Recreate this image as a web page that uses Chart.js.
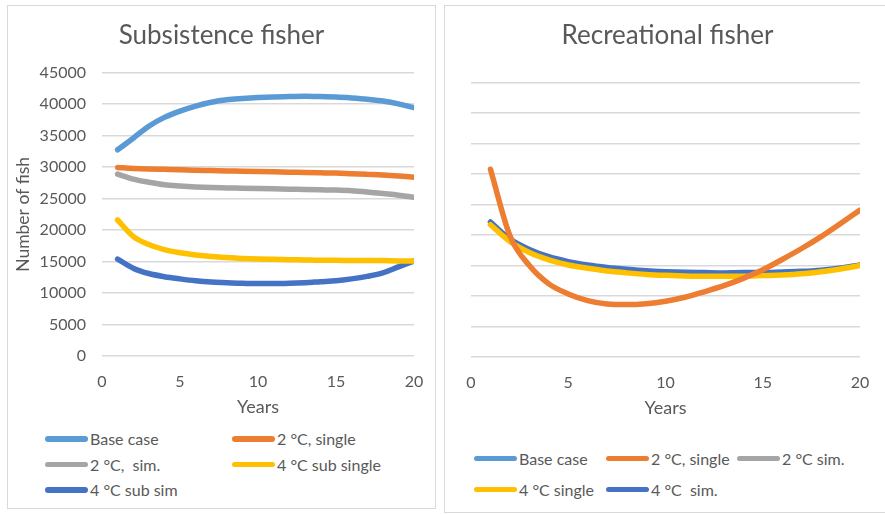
<!DOCTYPE html>
<html>
<head>
<meta charset="utf-8">
<script src="https://cdn.jsdelivr.net/npm/chart.js@4/dist/chart.umd.min.js"></script>
<style>
  body { margin: 0; background: #fff; font-family: Lato, sans-serif; }
  .panel { position: absolute; border: 1px solid #d9d9d9; background: #fff; overflow: hidden; }
  #p1 { left: 7px; top: 5px; width: 427px; height: 502px; }
  #p2 { left: 444px; top: 5px; width: 445px; height: 506px; }
  .legend { position: absolute; display: grid; font-size: 16px; color: #595959; }
  #leg1 { left: 37px; top: 420px; grid-template-columns: 187px 187px; grid-auto-rows: 25.5px; }
  #leg2 { left: 29px; top: 437px; grid-template-columns: 132px 131px 131px; grid-auto-rows: 31px; }
  .item { display: flex; align-items: center; white-space: pre; }
  .sw { display: inline-block; width: 43px; height: 5.5px; border-radius: 3px; margin-right: 2px; }
</style>
</head>
<body>
<div class="panel" id="p1">
  <canvas id="eChart1"></canvas>
  <div class="legend" id="leg1"></div>
</div>
<div class="panel" id="p2">
  <canvas id="eChart2"></canvas>
  <div class="legend" id="leg2"></div>
</div>
<script>
// data
var years = [1, 2, 3, 4, 5, 6, 7, 8, 9, 10, 11, 12, 13, 14, 15, 16, 17, 18, 19, 20];
var xTicks = [0, 5, 10, 15, 20];
var yTicks = [0, 5000, 10000, 15000, 20000, 25000, 30000, 35000, 40000, 45000];

// Subsistence fisher
var subNames = ['Base case', '2 °C, single', '2 °C,  sim.', '4 °C sub single', '4 °C sub sim'];
var subBase = [32750, 34600, 36500, 37900, 38900, 39700, 40300, 40700, 40900, 41050, 41150, 41200, 41250, 41200, 41150, 41000, 40800, 40500, 40050, 39450];
var sub2Single = [29950, 29800, 29700, 29650, 29600, 29500, 29450, 29400, 29350, 29300, 29250, 29200, 29150, 29100, 29050, 28950, 28850, 28750, 28600, 28400];
var sub2Sim = [28900, 28100, 27600, 27200, 27000, 26850, 26750, 26700, 26650, 26600, 26550, 26500, 26450, 26400, 26350, 26250, 26050, 25800, 25550, 25200];
var sub4Single = [21600, 19000, 17700, 16900, 16400, 16050, 15800, 15650, 15500, 15400, 15350, 15300, 15250, 15200, 15200, 15150, 15150, 15150, 15100, 15100];
var sub4Sim = [15400, 13950, 13100, 12600, 12250, 11950, 11750, 11650, 11550, 11500, 11500, 11550, 11650, 11800, 11950, 12250, 12650, 13200, 14150, 15100];

// Recreational fisher (base case and 2 °C sim. not visible in the picture)
var recNames = ['Base case', '2 °C, single', '2 °C sim.', '4 °C single', '4 °C  sim.'];
var recBase = [];
var rec2Single = [30800, 19900, 15000, 12000, 10350, 9250, 8700, 8600, 8750, 9150, 9800, 10700, 11700, 12900, 14300, 16000, 17800, 19750, 21900, 24100];
var rec2Sim = [];
var rec4Single = [21700, 18950, 17150, 15950, 15100, 14550, 14100, 13800, 13550, 13400, 13300, 13250, 13250, 13250, 13350, 13450, 13650, 14000, 14450, 15000];
var rec4Sim = [22150, 19350, 17650, 16450, 15650, 15100, 14700, 14400, 14150, 14000, 13900, 13850, 13800, 13850, 13850, 13950, 14050, 14250, 14600, 15100];

var colors = ['#5b9bd5', '#ed7d31', '#a5a5a5', '#ffc000', '#4472c4'];

Chart.defaults.font.family = 'Lato, sans-serif';
Chart.defaults.color = '#595959';

function pts(vals) {
  return vals.map(function(v, i) { return {x: years[i], y: v}; });
}

function makeSets(names, series) {
  return names.map(function(n, i) {
    return {
      label: n,
      data: pts(series[i]),
      borderColor: colors[i],
      backgroundColor: colors[i],
      borderWidth: 5.5,
      borderCapStyle: 'round',
      pointRadius: 0,
      cubicInterpolationMode: 'monotone',
      fill: false
    };
  });
}

function makeLegend(id, names) {
  var box = document.getElementById(id);
  names.forEach(function(n, i) {
    var it = document.createElement('div');
    it.className = 'item';
    var sw = document.createElement('span');
    sw.className = 'sw';
    sw.style.background = colors[i];
    it.appendChild(sw);
    it.appendChild(document.createTextNode(n));
    box.appendChild(it);
  });
}

// spacer on the right keeps the plot narrow without shifting the centred title
function makeOptions(title, showY, yWidth, titleBottom, rightGap) {
  return {
    responsive: false,
    animation: false,
    layout: { padding: 0 },
    plugins: {
      legend: { display: false },
      tooltip: { enabled: false },
      title: {
        display: true,
        text: title,
        color: '#595959',
        font: { size: 26, weight: 'normal' },
        padding: { top: 14, bottom: titleBottom }
      }
    },
    scales: {
      x: {
        type: 'linear',
        min: 0,
        max: 20,
        afterBuildTicks: function(s) { s.ticks = xTicks.map(function(v) { return {value: v}; }); },
        afterFit: function(s) { s.height = 70; s.paddingLeft = 0; s.paddingRight = 0; },
        grid: { display: false, drawTicks: false },
        border: { display: false },
        ticks: { padding: 16, font: { size: 16 }, color: '#595959', maxRotation: 0 },
        title: { display: true, text: 'Years', color: '#595959', font: { size: 18 }, padding: { top: 0, bottom: 8.5 } }
      },
      y: {
        min: 0,
        max: 45000,
        afterBuildTicks: function(s) { s.ticks = yTicks.map(function(v) { return {value: v}; }); },
        afterFit: function(s) { s.width = yWidth; },
        grid: { color: '#d9d9d9', lineWidth: 1.5, drawTicks: false },
        border: { display: false },
        ticks: { display: showY, padding: 16, font: { size: 16 }, color: '#595959',
          callback: function(v) { return String(v); } },
        title: { display: showY, text: 'Number of fish', color: '#595959', font: { size: 17.5 }, padding: { top: 4.5, bottom: 0 } }
      },
      gap: {
        position: 'right',
        min: 0,
        max: 1,
        afterFit: function(s) { s.width = rightGap; },
        grid: { display: false, drawTicks: false },
        border: { display: false },
        ticks: { display: false }
      }
    }
  };
}

var c1 = document.getElementById('eChart1');
c1.width = 427; c1.height = 420;
var ctx1 = c1.getContext('2d');
var myChart1 = new Chart(ctx1, {
  type: 'line',
  data: { datasets: makeSets(subNames, [subBase, sub2Single, sub2Sim, sub4Single, sub4Sim]) },
  options: makeOptions('Subsistence fisher', true, 94, 21.5, 21)
});

var c2 = document.getElementById('eChart2');
c2.width = 445; c2.height = 421;
var ctx2 = c2.getContext('2d');
var myChart2 = new Chart(ctx2, {
  type: 'line',
  data: { datasets: makeSets(recNames, [recBase, rec2Single, rec2Sim, rec4Single, rec4Sim]) },
  options: makeOptions('Recreational fisher', false, 26, 31.5, 30)
});

makeLegend('leg1', subNames);
makeLegend('leg2', recNames);
</script>
</body>
</html>
